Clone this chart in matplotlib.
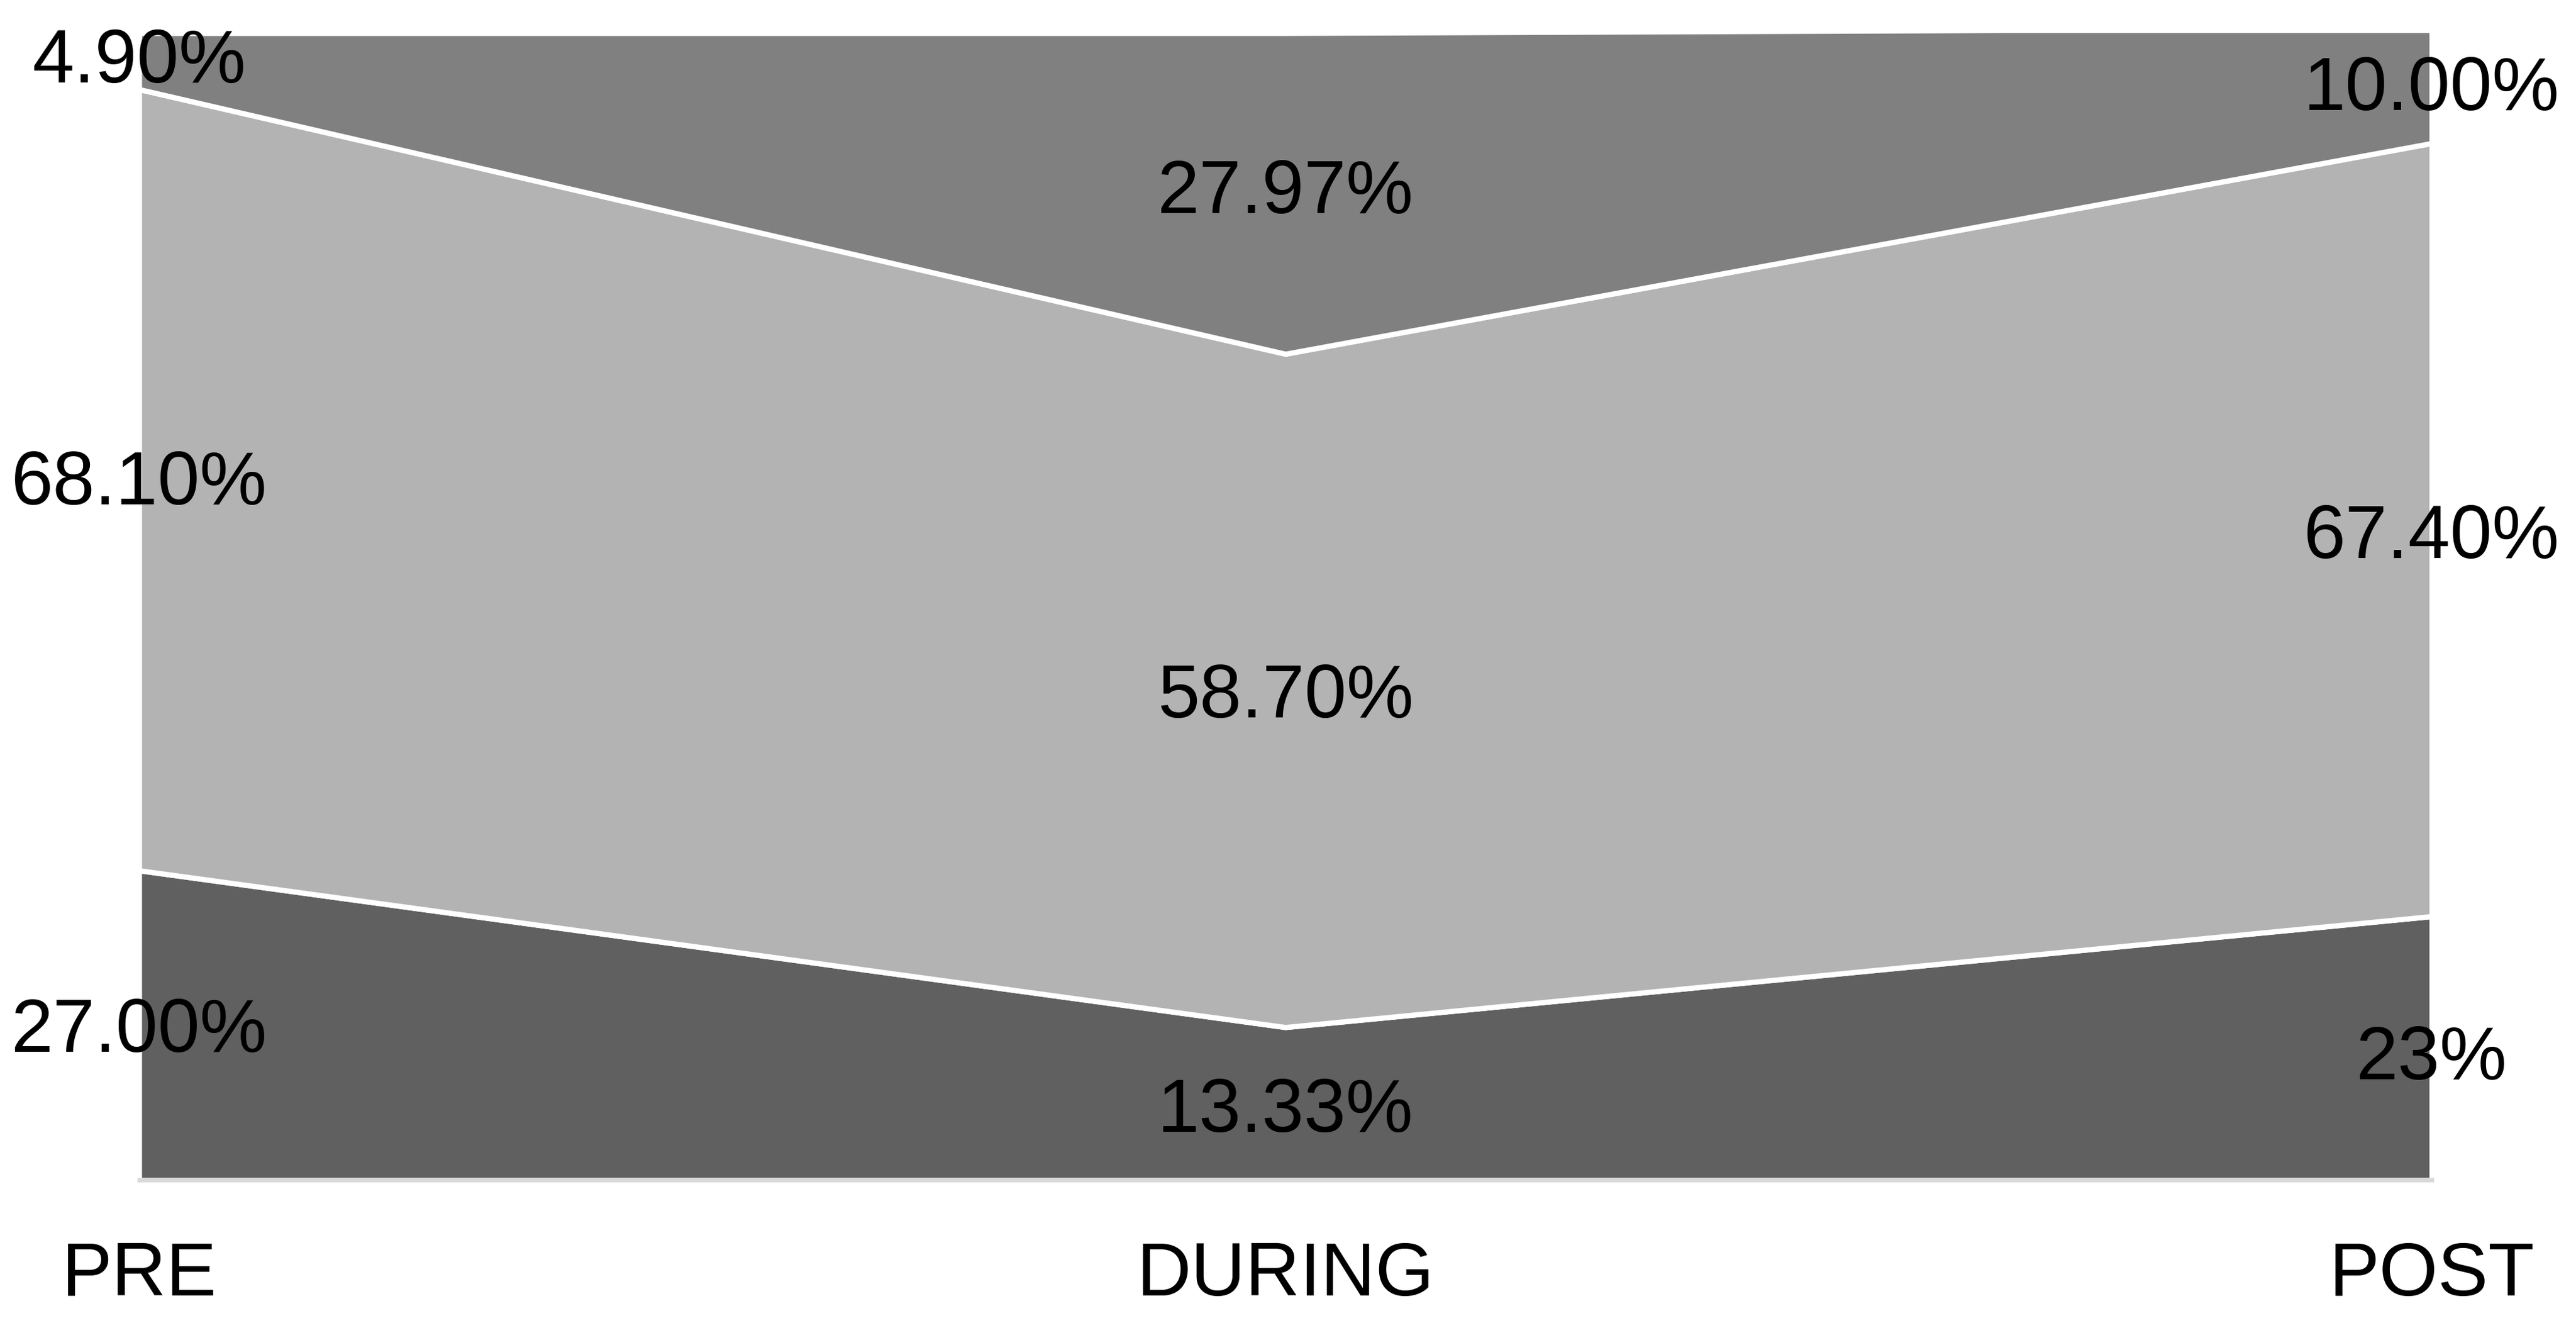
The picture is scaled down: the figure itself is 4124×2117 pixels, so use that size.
import matplotlib
matplotlib.use("Agg")
import matplotlib.pyplot as plt

# --- data ------------------------------------------------------------------ #
phases = ["PRE", "DURING", "POST"]
bottom_vals = [27.00, 13.33, 23.0]
middle_vals = [68.10, 58.70, 67.40]
top_vals = [4.90, 27.97, 10.00]
bottom_labels = ["27.00%", "13.33%", "23%"]
middle_labels = ["68.10%", "58.70%", "67.40%"]
top_labels = ["4.90%", "27.97%", "10.00%"]

# label anchor heights (percent of axis) for each series at each phase
bottom_label_y = [12.9, 5.9, 10.5]
middle_label_y = [60.6, 42.0, 55.9]
top_label_y = [97.4, 86.0, 95.0]

plt.rcParams["font.family"] = ["Liberation Sans", "DejaVu Sans"]

fig = plt.figure(figsize=(41.24, 21.17), dpi=100)
ax = fig.add_axes([0.054, 0.108, 0.89, 0.867])
x = list(range(len(phases)))
ax.stackplot(x, bottom_vals, middle_vals, top_vals,
             colors=["#606060", "#b3b3b3", "#808080"],
             edgecolor="white", linewidth=6)
ax.set_xlim(0, len(phases) - 1)
ax.set_ylim(0, 100)

for labels, ys in [(bottom_labels, bottom_label_y), (middle_labels, middle_label_y),
                   (top_labels, top_label_y)]:
    for xi, (lab, y) in enumerate(zip(labels, ys)):
        ax.text(xi, y, lab, ha="center", va="center", fontsize=87, color="black")

ax.set_xticks(x)
ax.set_xticklabels(phases, fontsize=87)
ax.tick_params(axis="x", length=0, pad=70)
ax.set_yticks([])
for s in ["top", "right", "left"]:
    ax.spines[s].set_visible(False)
ax.spines["bottom"].set_color("#d9d9d9")
ax.spines["bottom"].set_linewidth(5)

fig.savefig("out.png", dpi=100)
